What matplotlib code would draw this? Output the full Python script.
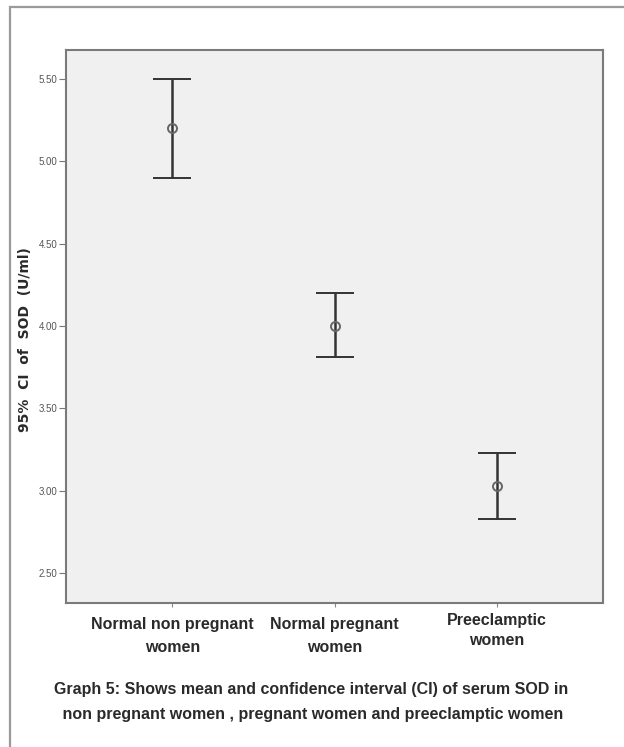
import matplotlib.pyplot as plt
from matplotlib.patches import Rectangle
from matplotlib.transforms import ScaledTranslation

# values (U/ml)
groups = ['Normal non pregnant\nwomen', 'Normal pregnant\nwomen', 'Preeclamptic\nwomen']
means = [5.20, 4.00, 3.03]
ci_low = [4.90, 3.81, 2.83]
ci_high = [5.50, 4.20, 3.23]
yticks = [2.50, 3.00, 3.50, 4.00, 4.50, 5.00, 5.50]

caption = ('Graph 5: Shows mean and confidence interval (CI) of serum SOD in\n'
           ' non pregnant women , pregnant women and preeclamptic women')

W, H = 624, 747
fig = plt.figure(figsize=(W / 100, H / 100), dpi=100)
fig.patch.set_facecolor('white')

# outer frame (left and top edge visible in the scan)
fig.add_artist(Rectangle((10 / W, -0.01), 0.99, 1 - 7 / H + 0.01, transform=fig.transFigure,
                         fill=False, edgecolor='#9a9a9a', linewidth=1.6))

ax = fig.add_axes([66 / W, 1 - 603 / H, (603 - 66) / W, (603 - 50) / H])
ax.set_facecolor('#f0f0f0')
for s in ax.spines.values():
    s.set_color('#7a7a7a')
    s.set_linewidth(1.5)

x = list(range(len(groups)))
err = [[m - lo for m, lo in zip(means, ci_low)], [hi - m for m, hi in zip(means, ci_high)]]
ax.errorbar(x, means, yerr=err, fmt='o', color='#333333', ecolor='#333333',
            elinewidth=1.8, capsize=13.7, capthick=2.8,
            markersize=6.5, markerfacecolor='none', markeredgecolor='#666666', markeredgewidth=1.4)

ax.set_xlim(-0.656, 2.653)
ax.set_ylim(2.318, 5.676)
ax.set_yticks(yticks)
ax.set_yticklabels(['%.2f' % v for v in yticks], fontsize=7,
                   family=['Liberation Sans', 'DejaVu Sans'], color='#555555')
ax.tick_params(axis='y', length=5, width=0.8, color='#777777', pad=1)
ax.set_xticks(x)
ax.set_xticklabels(groups, fontsize=11.5, family=['Liberation Sans', 'DejaVu Sans'],
                   fontweight='bold', color='#2a2a2a', linespacing=1.7)
ax.tick_params(axis='x', length=3, width=0.8, color='#888888', pad=7)

# the last label sits a little higher and tighter in the original
lab = ax.get_xticklabels()[2]
lab.set_linespacing(1.45)
lab.set_transform(lab.get_transform() + ScaledTranslation(0, 4 / 100, fig.dpi_scale_trans))

fig.text(25 / W, 1 - 340 / H, '95%  CI  of  SOD  (U/ml)', rotation=90, ha='center', va='center',
         fontsize=10, fontweight='bold', color='#2a2a2a', family=['DejaVu Sans'])

fig.text(311 / W, 1 - 702 / H, caption, ha='center', va='center', fontsize=11.5,
         family=['Liberation Sans', 'DejaVu Sans'], fontweight='bold', color='#2a2a2a',
         linespacing=1.9)

fig.savefig('out.png', dpi=100)
